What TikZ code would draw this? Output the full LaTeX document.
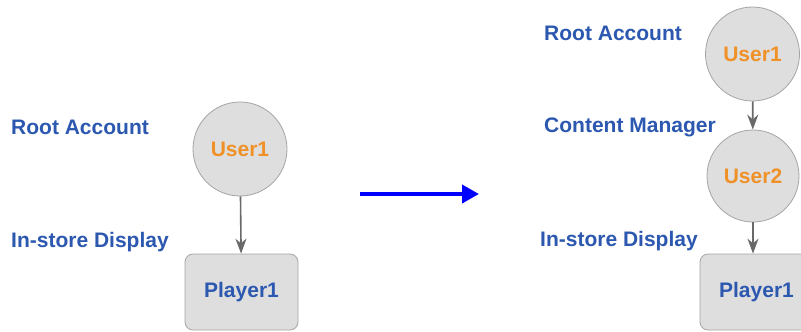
\documentclass[tikz,border=0pt]{standalone}
\usepackage{fontspec}
\setmainfont{Liberation Sans}
\usetikzlibrary{arrows.meta}
\definecolor{lblblue}{RGB}{44,88,176}
\definecolor{usrorange}{RGB}{240,145,40}
\definecolor{nodefill}{RGB}{222,222,222}
\definecolor{nodeedge}{RGB}{165,165,165}
\definecolor{linkgray}{RGB}{105,105,105}
\begin{document}
\begin{tikzpicture}[x=1pt,y=-1pt,
  lbl/.style={font=\fontsize{21}{25}\selectfont\bfseries, text=lblblue, anchor=west, inner sep=0pt},
  usernode/.style={circle, draw=nodeedge, fill=nodefill, line width=0.8pt, minimum size=94pt, inner sep=0pt,
     font=\fontsize{21}{25}\selectfont\bfseries, text=usrorange},
  playernode/.style={rectangle, rounded corners=8pt, draw=nodeedge, fill=nodefill, line width=0.8pt,
     minimum height=76pt, inner sep=0pt, font=\fontsize{21}{25}\selectfont\bfseries, text=lblblue},
  link/.style={draw=linkgray, line width=1.6pt, -{Stealth[length=15pt,width=11pt]}},
  bigarrow/.style={draw=blue, line width=4pt, -{Triangle[length=17pt,width=18pt]}}
]
\clip (0,0) rectangle (801,332);
\fill[white] (0,0) rectangle (801,332);
% left diagram
\node[usernode] (lu1) at (240,149) {User1};
\node[playernode, minimum width=113pt] (lp1) at (241.5,292) {Player1};
\node[lbl] (lroot) at (11,127) {Root Account};
\node[lbl] (ldisp) at (11,242) {In-store Display};
\draw[link] (lu1) -- (lp1);
% transition arrow
\coordinate (ta) at (360,194);
\coordinate (tb) at (479,194);
\draw[bigarrow] (ta) -- (tb);
% right diagram
\node[usernode] (ru1) at (752.5,54) {User1};
\node[usernode, minimum size=92pt] (ru2) at (753,176) {User2};
\node[playernode, minimum width=113pt] (rp1) at (756.5,292) {Player1};
\node[lbl] (rroot) at (544,33) {Root Account};
\node[lbl] (rcm) at (544,127) {Content Manager};
\node[lbl] (rdisp) at (540,241) {In-store Display};
\draw[link] (ru1) -- (ru2);
\draw[link] (ru2.south) -- (ru2.south |- rp1.north);
\end{tikzpicture}
\end{document}
